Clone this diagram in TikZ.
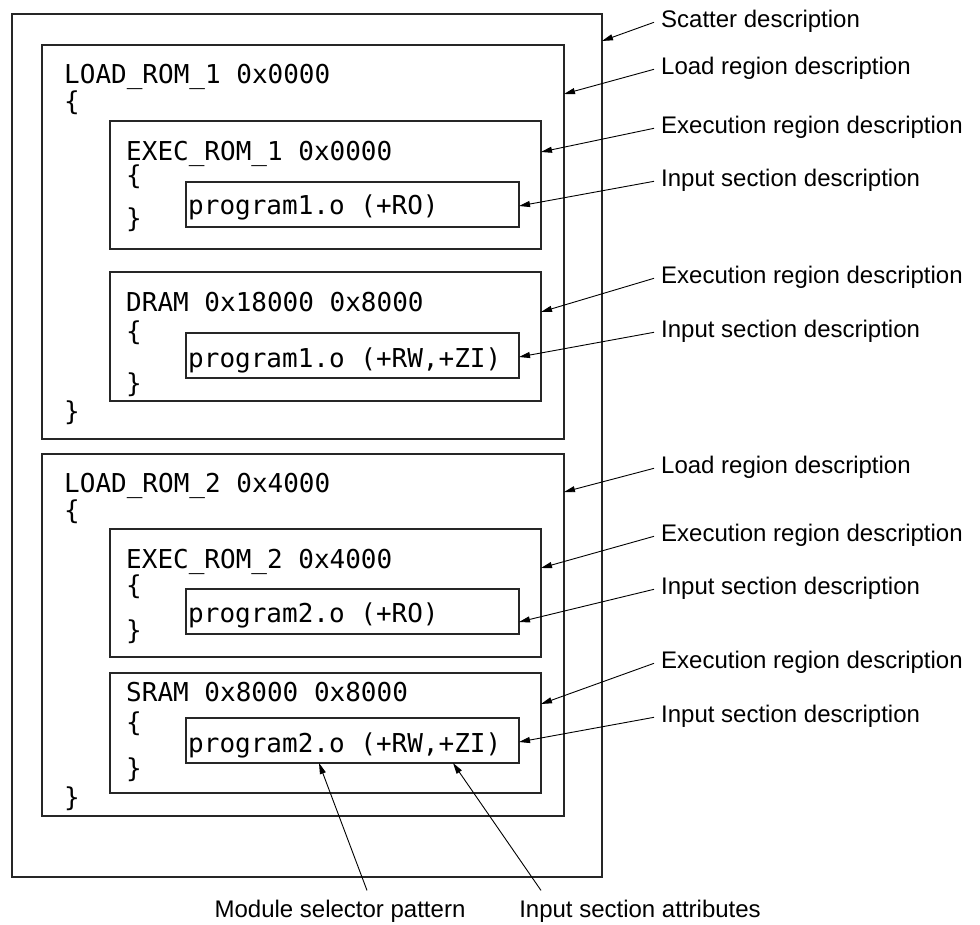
\documentclass[tikz,border=0pt]{standalone}
\usepackage{fontspec}
\setmainfont{Liberation Sans}
\newfontfamily\codefont{DejaVu Sans Mono}
\usetikzlibrary{arrows.meta}
\begin{document}
\begin{tikzpicture}[x=1pt,y=-1pt,
  box/.style={draw=black!85, line width=1.2pt, inner sep=0pt, outer sep=0pt, anchor=north west},
  code/.style={anchor=base west, inner sep=0pt, font=\codefont\fontsize{26}{30}\selectfont},
  brace/.style={anchor=west, inner sep=0pt, font=\codefont\fontsize{26}{30}\selectfont},
  lab/.style={anchor=base west, inner xsep=7pt, inner ysep=0pt, font=\fontsize{24}{28}\selectfont},
  blab/.style={anchor=base, inner sep=0pt, font=\fontsize{24}{28}\selectfont},
  arr/.style={line width=0.9pt, -{Triangle[length=11pt,width=6pt]}}]
\useasboundingbox (0,0) rectangle (980,924);

% boxes
\node[box, minimum width=590pt, minimum height=863pt] (scatter) at (12,14) {};
\node[box, minimum width=522pt, minimum height=394pt] (load1) at (42,45) {};
\node[box, minimum width=522pt, minimum height=362pt] (load2) at (42,454) {};
\node[box, minimum width=431pt, minimum height=128pt] (exec1) at (110,121) {};
\node[box, minimum width=431pt, minimum height=129pt] (exec2) at (110,272) {};
\node[box, minimum width=431pt, minimum height=128pt] (exec3) at (110,529) {};
\node[box, minimum width=431pt, minimum height=120pt] (exec4) at (110,673) {};
\node[box, minimum width=333pt, minimum height=45pt] (in1) at (186,182) {};
\node[box, minimum width=333pt, minimum height=45pt] (in2) at (186,333) {};
\node[box, minimum width=333pt, minimum height=45pt] (in3) at (186,589) {};
\node[box, minimum width=333pt, minimum height=45pt] (in4) at (186,718) {};

% code text
\node[code] (t1) at (64,83) {LOAD\_ROM\_1 0x0000};
\node[brace] (b1o) at (64,102.5) {\{};
\node[code] (t2) at (126,160) {EXEC\_ROM\_1 0x0000};
\node[brace] (b2o) at (126,177) {\{};
\node[code] (p1) at (188,214) {program1.o (+RO)};
\node[brace] (b2c) at (126,220) {\}};
\node[code] (t3) at (126,311) {DRAM 0x18000 0x8000};
\node[brace] (b3o) at (126,332.5) {\{};
\node[code] (p2) at (188,367) {program1.o (+RW,+ZI)};
\node[brace] (b3c) at (126,384.5) {\}};
\node[brace] (b1c) at (64,412.5) {\}};

\node[code] (t4) at (64,492) {LOAD\_ROM\_2 0x4000};
\node[brace] (b4o) at (64,511.5) {\{};
\node[code] (t5) at (126,568) {EXEC\_ROM\_2 0x4000};
\node[brace] (b5o) at (126,587) {\{};
\node[code] (p3) at (188,622) {program2.o (+RO)};
\node[brace] (b5c) at (126,632) {\}};
\node[code] (t6) at (126,701) {SRAM 0x8000 0x8000};
\node[brace] (b6o) at (126,724) {\{};
\node[code] (p4) at (188,752) {program2.o (+RW,+ZI)};
\node[brace] (b6c) at (126,770) {\}};
\node[brace] (b4c) at (64,799) {\}};

% right labels
\node[lab] (l0) at (654,27) {Scatter description};
\node[lab] (l1) at (654,74) {Load region description};
\node[lab] (l2) at (654,133) {Execution region description};
\node[lab] (l3) at (654,186) {Input section description};
\node[lab] (l4) at (654,283) {Execution region description};
\node[lab] (l5) at (654,337) {Input section description};
\node[lab] (l6) at (654,473) {Load region description};
\node[lab] (l7) at (654,541) {Execution region description};
\node[lab] (l8) at (654,594) {Input section description};
\node[lab] (l9) at (654,668) {Execution region description};
\node[lab] (l10) at (654,722) {Input section description};

\draw[arr] ([yshift=-1.5pt]l0.west) -- (scatter.east |- 0,41);
\draw[arr] ([yshift=-1.5pt]l1.west) -- (load1.east |- 0,94);
\draw[arr] ([yshift=-1.5pt]l2.west) -- (exec1.east |- 0,152);
\draw[arr] ([yshift=-1.5pt]l3.west) -- (in1.east |- 0,206);
\draw[arr] ([yshift=-1.5pt]l4.west) -- (exec2.east |- 0,312);
\draw[arr] ([yshift=-1.5pt]l5.west) -- (in2.east |- 0,357);
\draw[arr] ([yshift=-1.5pt]l6.west) -- (load2.east |- 0,492);
\draw[arr] ([yshift=-1.5pt]l7.west) -- (exec3.east |- 0,568);
\draw[arr] ([yshift=-1.5pt]l8.west) -- (in3.east |- 0,622);
\draw[arr] ([yshift=-1.5pt]l9.west) -- (exec4.east |- 0,704);
\draw[arr] ([yshift=-1.5pt]l10.west) -- (in4.east |- 0,742);

% bottom labels
\node[blab] (mod) at (340,917) {Module selector pattern};
\node[blab] (att) at (640,917) {Input section attributes};
\draw[arr] ([xshift=27pt,yshift=9pt]mod.north) -- (319,0 |- in4.south);
\draw[arr] ([xshift=-99pt,yshift=9pt]att.north) -- (453,0 |- in4.south);
\end{tikzpicture}
\end{document}
